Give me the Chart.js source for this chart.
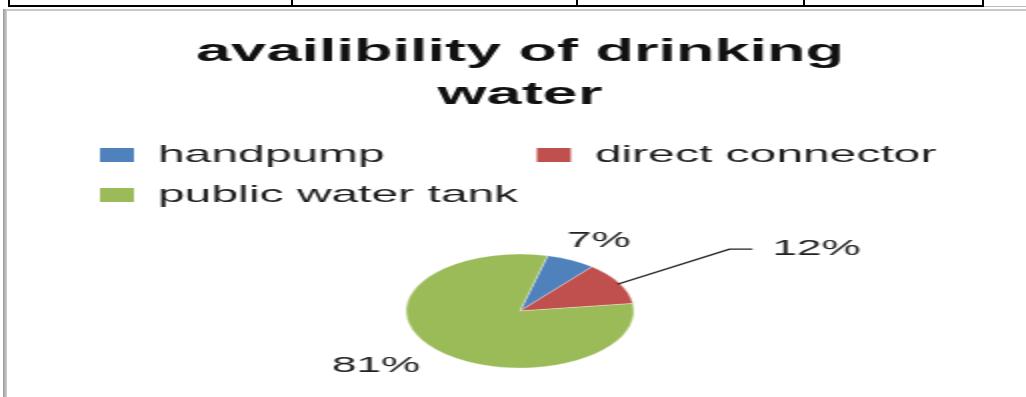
<!DOCTYPE html>
<html>
<head>
<meta charset="utf-8">
<script src="https://cdn.jsdelivr.net/npm/chart.js@4.4.1/dist/chart.umd.min.js"></script>
<style>
  html, body { margin:0; padding:0; background:#fff; }
  body { width:1026px; height:397px; overflow:hidden; position:relative; }
  .ln { position:absolute; background:#000; }
  .gr { position:absolute; }
  #wrap { position:absolute; left:68px; top:0; width:452px; height:420px; transform:scale(2,1); transform-origin:0 0; }
</style>
</head>
<body>
<!-- table row above the chart -->
<div class="ln" style="left:8px;top:5px;width:976px;height:2px;"></div>
<div class="ln" style="left:8px;top:0;width:2px;height:7px;"></div>
<div class="ln" style="left:291px;top:0;width:2px;height:7px;"></div>
<div class="ln" style="left:576px;top:0;width:2px;height:7px;"></div>
<div class="ln" style="left:803px;top:0;width:2px;height:7px;"></div>
<div class="ln" style="left:982px;top:0;width:2px;height:7px;"></div>
<div class="gr" style="left:984px;top:6px;width:42px;height:1px;background:#bbb;"></div>
<!-- chart frame -->
<div class="gr" style="left:3px;top:9px;width:1023px;height:2px;background:#c8c8c8;"></div>
<div class="gr" style="left:3px;top:9px;width:4px;height:388px;background:linear-gradient(to right,#9a9a9a,#d0d0d0);"></div>

<div id="wrap"><canvas id="myChart" width="452" height="420"></canvas></div>

<script>
var categories = ['handpump', 'direct connector', 'public water tank'];
var values = [7, 12, 81];
var pctlabels = ['7%', '12%', '81%'];
var colors = ['#4F81BD', '#C0504D', '#9BBB59'];

// where each percent label sits, relative to the edge of its slice
var labelpos = [
	{dx: 14, dy: -19, align: 'center'},
	{dx: 55, dy: -34, align: 'left', leader: 11.5, gap: 10},
	{dx: -29.5, dy: 17, align: 'center'}
];

var fontfam = "'Liberation Sans', Arial, sans-serif";

var pielabels = {
	id: 'pielabels',
	afterDatasetsDraw: function(chart){
		var ctx = chart.ctx;
		var meta = chart.getDatasetMeta(0);
		ctx.save();
		ctx.font = '22px ' + fontfam;
		ctx.fillStyle = '#222';
		ctx.textBaseline = 'middle';
		meta.data.forEach(function(arc, i){
			var p = arc.getProps(['x','y','startAngle','endAngle','outerRadius'], true);
			var mid = (p.startAngle + p.endAngle) / 2;
			var ex = p.x + Math.cos(mid) * p.outerRadius;
			var ey = p.y + Math.sin(mid) * p.outerRadius;
			var lp = labelpos[i];
			var tx = ex + lp.dx, ty = ey + lp.dy;
			if (lp.leader){
				ctx.strokeStyle = '#222';
				ctx.lineWidth = 1.3;
				ctx.beginPath();
				ctx.moveTo(ex - 1, ey + 1);
				ctx.lineTo(tx, ty);
				ctx.lineTo(tx + lp.leader, ty);
				ctx.stroke();
				tx = tx + lp.leader + lp.gap;
			}
			ctx.textAlign = lp.align;
			ctx.fillText(pctlabels[i], tx, ty);
		});
		ctx.restore();
	}
};

var ctx = document.getElementById('myChart').getContext('2d');
var myChart = new Chart(ctx, {
	type: 'pie',
	data: {
		labels: categories,
		datasets: [{
			data: values,
			backgroundColor: colors,
			borderColor: 'rgba(255,255,255,0.5)',
			borderWidth: 0.6
		}]
	},
	options: {
		responsive: false,
		animation: false,
		rotation: 14,
		radius: 57,
		layout: { padding: { top: 20, left: 0, right: 0, bottom: 15 } },
		plugins: {
			tooltip: { enabled: false },
			title: {
				display: true,
				text: ['availibility of drinking', 'water'],
				color: '#111',
				font: { family: fontfam, size: 31.5, weight: 'bold', lineHeight: 1.365 },
				padding: { top: 10.5, bottom: 10.5 }
			},
			legend: {
				position: 'top',
				align: 'start',
				labels: {
					color: '#1e1e1e',
					font: { family: fontfam, size: 24 },
					boxWidth: 17,
					boxHeight: 14,
					padding: 16,
					generateLabels: function(chart){
						var items = Chart.overrides.pie.plugins.legend.labels.generateLabels(chart);
						items.forEach(function(it){ it.lineWidth = 0; it.strokeStyle = it.fillStyle; });
						// excel lines the legend up in columns
						items[0].text = items[0].text + '         ';
						return items;
					}
				}
			}
		}
	},
	plugins: [pielabels]
});
</script>
</body>
</html>
